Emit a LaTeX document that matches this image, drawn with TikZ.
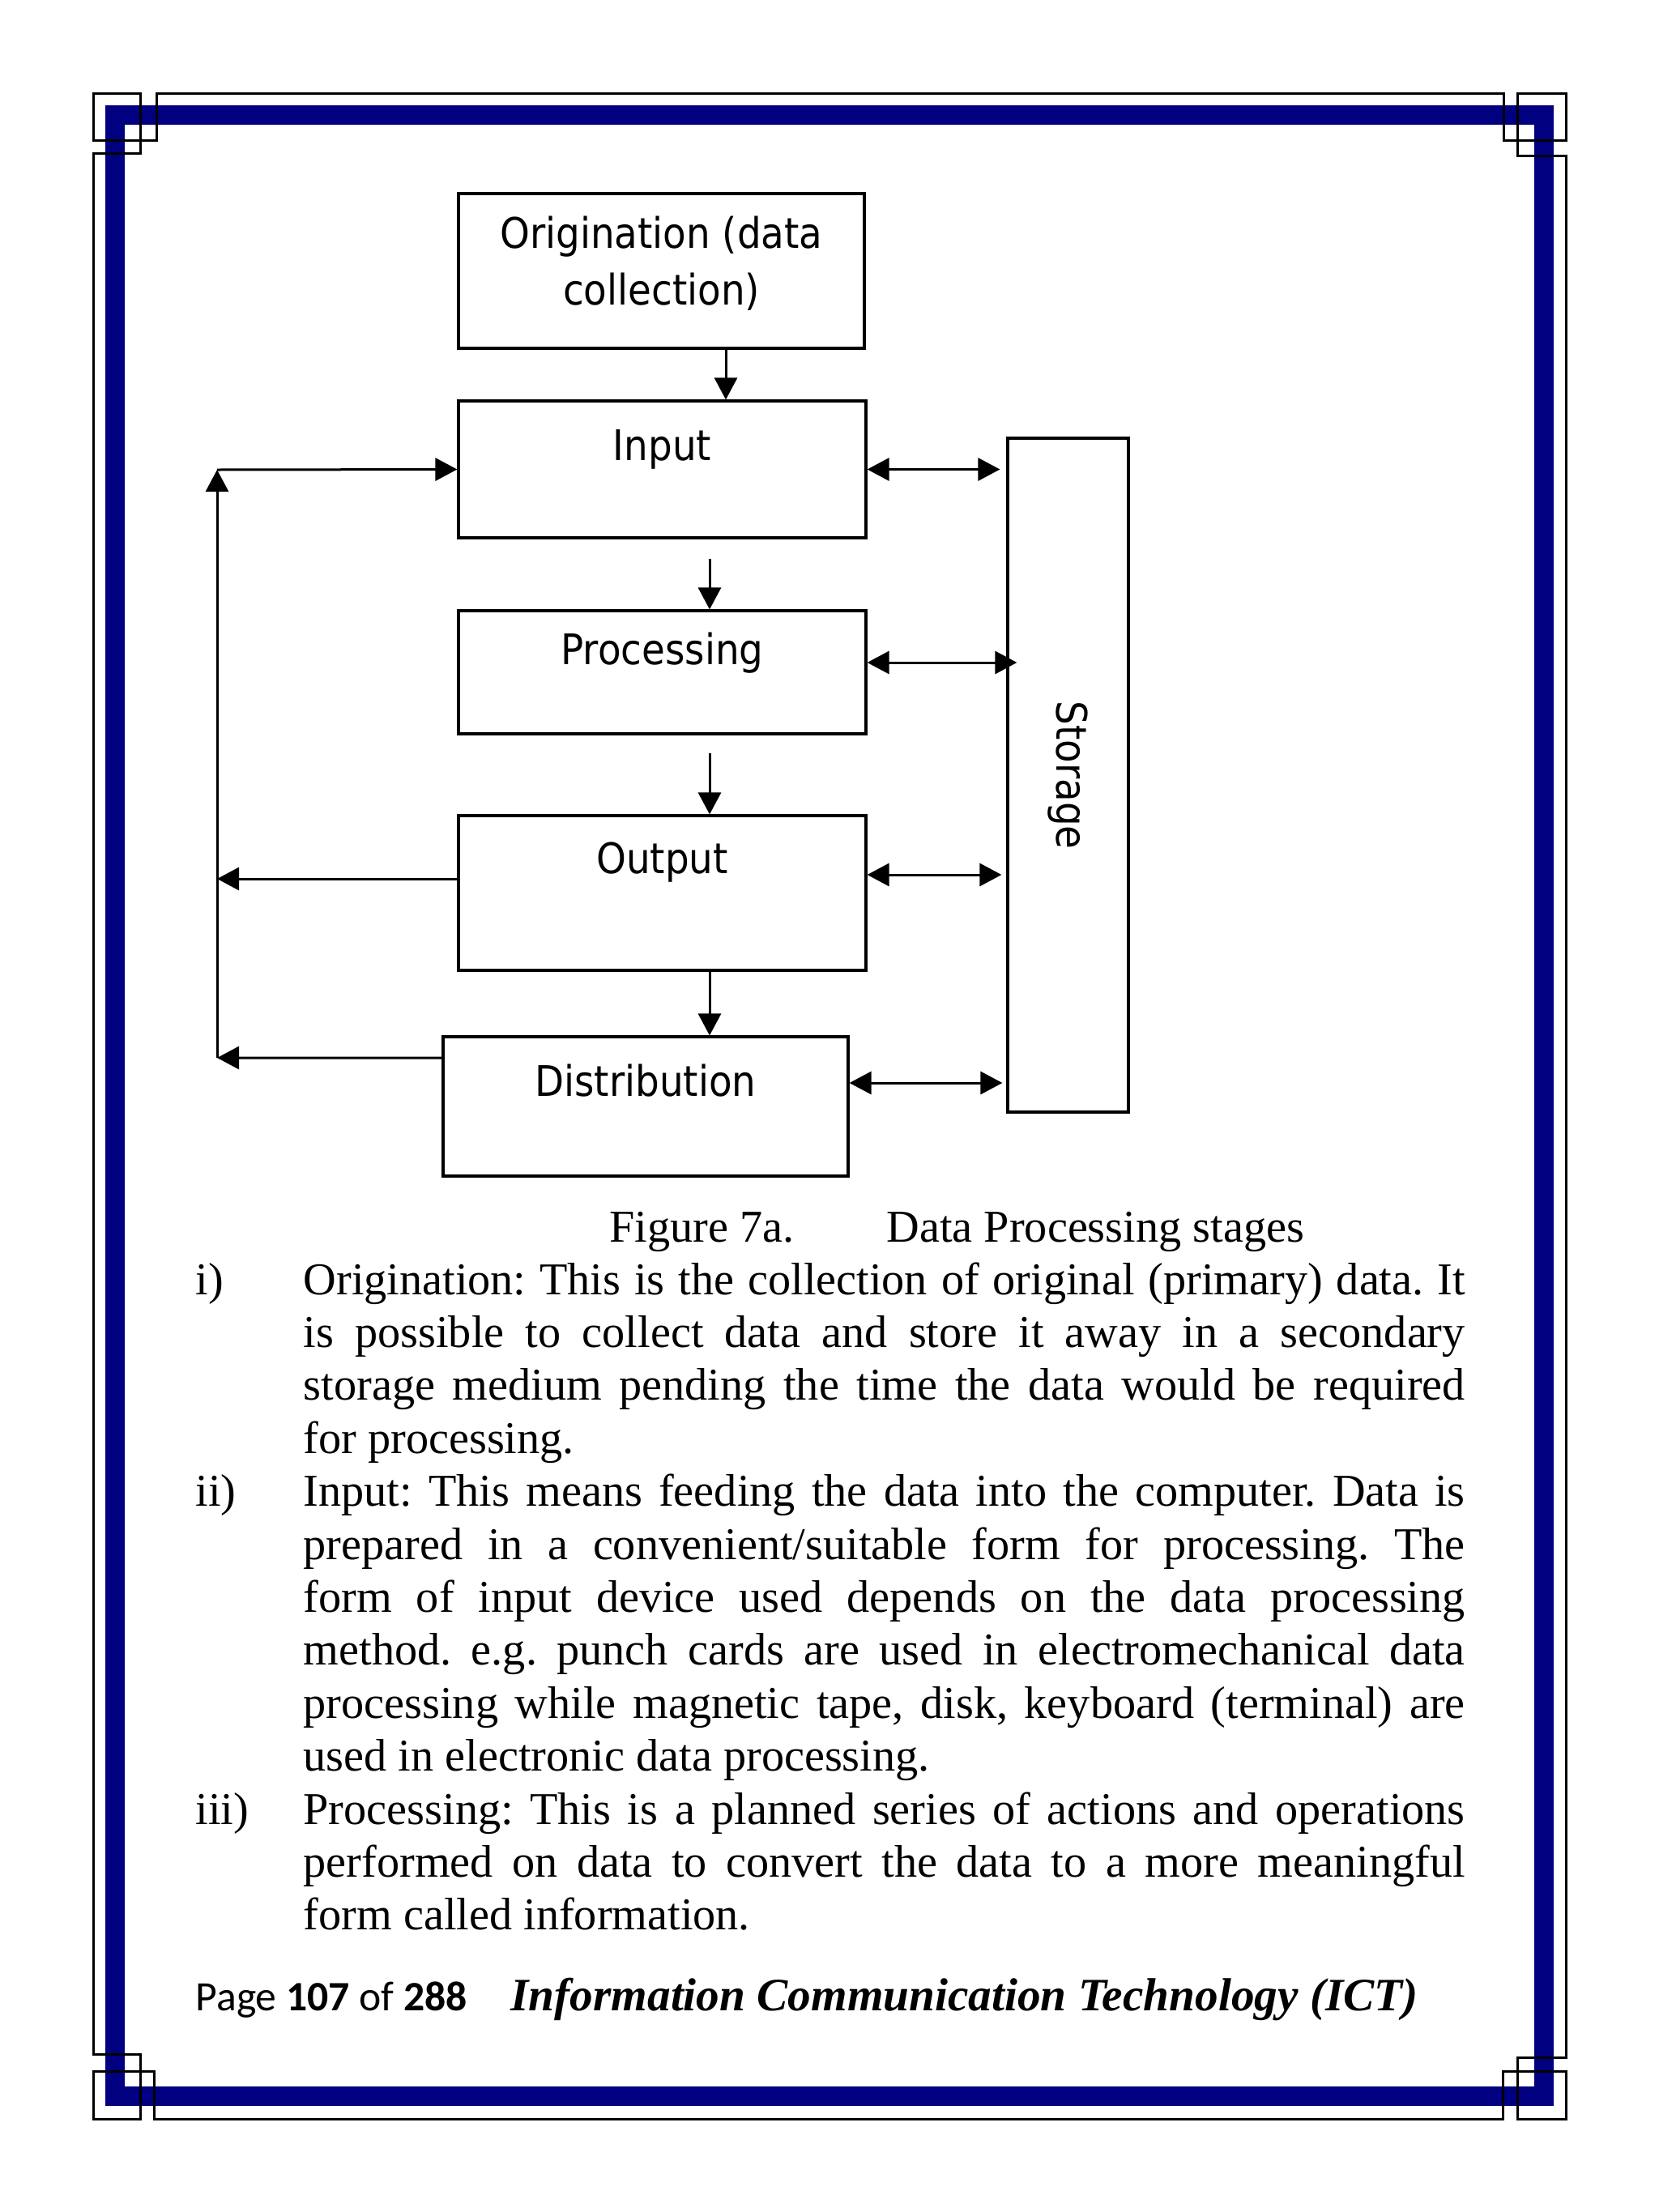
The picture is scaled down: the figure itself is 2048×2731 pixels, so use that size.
\documentclass[tikz,border=0pt]{standalone}
\usepackage{fontspec}
\setmainfont{Liberation Serif}
\newfontfamily\diagfont{DejaVu Sans Condensed}
\newfontfamily\footfont{Carlito}
\usetikzlibrary{arrows.meta}
\definecolor{framenavy}{RGB}{0,0,128}
\frenchspacing

\begin{document}
\begin{tikzpicture}[x=0.1mm,y=-0.1mm,
    stage/.style={draw,line width=0.32mm,inner sep=0pt,minimum width=50.3mm},
    boxtext/.style={anchor=north,inner sep=0pt,yshift=-#1mm,align=center,
      font=\diagfont\fontsize{14.8}{19.9}\selectfont},
    flow/.style={line width=0.3mm,-{Triangle[length=2.7mm,width=2.8mm]}},
    both/.style={line width=0.3mm,
      {Triangle[length=2.7mm,width=2.8mm]}-{Triangle[length=2.7mm,width=2.8mm]}},
    txtline/.style={anchor=base west,inner sep=0pt,font=\fontsize{16}{18.6}\selectfont},
    rule/.style={line width=0.3mm}]
  \useasboundingbox (0,0) rectangle (2048,2731);

  % page frame
  \draw[line width=2.4mm,framenavy] (142,142) rectangle (1906,2588);
  \draw[rule] (115,115) rectangle (173,173);
  \draw[rule] (1873,115) rectangle (1933,173);
  \draw[rule] (115,2557) rectangle (173,2616);
  \draw[rule] (1873,2557) rectangle (1933,2616);
  \draw[rule] (173,173) -- (193,173) -- (193,115) -- (1856,115) -- (1856,173) -- (1873,173);
  \draw[rule] (173,2557) -- (190,2557) -- (190,2616) -- (1855,2616) -- (1855,2557) -- (1873,2557);
  \draw[rule] (173,173) -- (173,189) -- (115,189) -- (115,2536) -- (173,2536) -- (173,2557);
  \draw[rule] (1873,173) -- (1873,192) -- (1933,192) -- (1933,2540) -- (1873,2540) -- (1873,2557);

  % stages
  \node[stage,minimum width=50.1mm,minimum height=19.1mm,
    label={[boxtext=2.9]above:Origination (data\\collection)}] (orig) at (816.5,334.5) {};
  \node[stage,minimum height=16.9mm,label={[boxtext=3.65]above:Input}] (input) at (817.5,579.5) {};
  \node[stage,minimum height=15.2mm,label={[boxtext=2.75]above:Processing}] (proc) at (817.5,830) {};
  \node[stage,minimum height=19.1mm,label={[boxtext=3.35]above:Output}] (outp) at (817.5,1102.5) {};
  \node[stage,minimum width=50mm,minimum height=17.2mm,
    label={[boxtext=3.45]above:Distribution}] (dist) at (797,1366) {};
  \node[stage,minimum width=14.9mm,minimum height=83.2mm,
    font=\diagfont\fontsize{14.8}{19.9}\selectfont] (store) at (1318.5,957) {\rotatebox{-90}{Storage}};

  \draw[flow] ([xshift=7.95mm]orig.south) -- ([xshift=7.95mm]orig.south |- input.north);
  \draw[flow] ([xshift=5.85mm,yshift=-2.4mm]input.south) -- ([xshift=5.85mm]proc.north);
  \draw[flow] ([xshift=5.85mm,yshift=-2.2mm]proc.south) -- ([xshift=5.85mm]outp.north);
  \draw[flow] ([xshift=5.85mm]outp.south) -- ([xshift=5.85mm]outp.south |- dist.north);

  % feedback loop
  \coordinate (backtop) at (268,580);
  \coordinate (backbot) at (268,1306);
  \draw[flow] ([yshift=6mm]dist.west) -- (backbot);
  \draw[flow] ([yshift=1.75mm]outp.west) -- ([yshift=1.75mm]outp.west -| backbot);
  \draw[flow] (backbot) -- (backtop);
  \draw[flow] (backtop) -- (input.west);

  % to and from storage
  \draw[both] (input.east) -- ([xshift=-0.8mm]input.east -| store.west);
  \draw[both] ([yshift=1.2mm]proc.east) -- ([xshift=1.3mm,yshift=1.2mm]proc.east -| store.west);
  \draw[both] ([yshift=2.25mm]outp.east) -- ([xshift=-0.6mm,yshift=2.25mm]outp.east -| store.west);
  \draw[both] ([yshift=2.9mm]dist.east) -- ([xshift=-0.5mm,yshift=2.9mm]dist.east -| store.west);

  % caption and text
  \node[txtline] (caption) at (752,1533) {\makebox[34.2mm][l]{Figure 7a.}Data Processing stages};
  \node[txtline] (n1) at (241,1598) {i)};
  \node[txtline] (l1) at (374,1598) {\makebox[143.4mm][s]{Origination: This is the collection of original (primary) data. It}};
  \node[txtline] (l2) at (374,1663.4) {\makebox[143.4mm][s]{is possible to collect data and store it away in a secondary}};
  \node[txtline] (l3) at (374,1728.8) {\makebox[143.4mm][s]{storage medium pending the time the data would be required}};
  \node[txtline] (l4) at (374,1794.2) {for processing.};
  \node[txtline] (n2) at (241,1859.6) {ii)};
  \node[txtline] (l5) at (374,1859.6) {\makebox[143.4mm][s]{Input: This means feeding the data into the computer. Data is}};
  \node[txtline] (l6) at (374,1925) {\makebox[143.4mm][s]{prepared in a convenient/suitable form for processing. The}};
  \node[txtline] (l7) at (374,1990.4) {\makebox[143.4mm][s]{form of input device used depends on the data processing}};
  \node[txtline] (l8) at (374,2055.8) {\makebox[143.4mm][s]{method. e.g. punch cards are used in electromechanical data}};
  \node[txtline] (l9) at (374,2121.2) {\makebox[143.4mm][s]{processing while magnetic tape, disk, keyboard (terminal) are}};
  \node[txtline] (l10) at (374,2186.6) {used in electronic data processing.};
  \node[txtline] (n3) at (241,2252) {iii)};
  \node[txtline] (l11) at (374,2252) {\makebox[143.4mm][s]{Processing: This is a planned series of actions and operations}};
  \node[txtline] (l12) at (374,2317.4) {\makebox[143.4mm][s]{performed on data to convert the data to a more meaningful}};
  \node[txtline] (l13) at (374,2382.8) {form called information.};

  % footer
  \node[txtline,font=\footfont\fontsize{14.7}{17}\selectfont] (pageno) at (241,2482)
    {Page \textbf{107} of \textbf{288}};
  \node[txtline,font=\fontsize{16.3}{18.6}\selectfont\bfseries\itshape] (booktitle) at (630,2482)
    {Information Communication Technology (ICT)};
\end{tikzpicture}
\end{document}
